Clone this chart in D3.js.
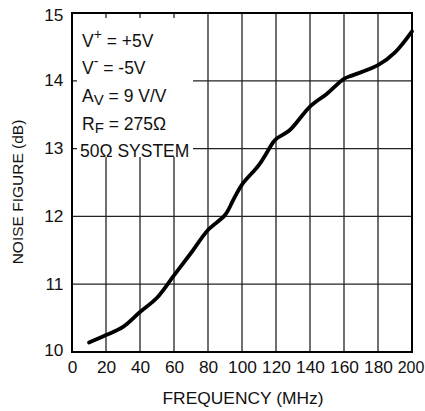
<!DOCTYPE html>
<html>
<head>
<meta charset="utf-8">
<script src="https://cdn.jsdelivr.net/npm/d3@7"></script>
<style>
  body { margin: 0; background: #fff; }
  text { font-family: "Liberation Sans", Arial, Helvetica, sans-serif; fill: #111; }
</style>
</head>
<body>
<div id="chart"></div>
<script>
// values
var freq = [10, 20, 30, 40, 50, 60, 70, 80, 90, 95, 100, 110, 118, 120, 128, 140, 150, 160, 165, 180, 190, 200];
var noise = [10.14, 10.25, 10.37, 10.59, 10.8, 11.13, 11.46, 11.8, 12.02, 12.25, 12.47, 12.76, 13.08, 13.14, 13.27, 13.62, 13.81, 14.03, 14.08, 14.23, 14.42, 14.73];
var xTicks = [0, 20, 40, 60, 80, 100, 120, 140, 160, 180, 200];
var yTicks = [10, 11, 12, 13, 14, 15];

var width = 425, height = 411;
var margin = {top: 13, right: 13, bottom: 59, left: 72};
var w = width - margin.left - margin.right,
    h = height - margin.top - margin.bottom;

var svg = d3.select("#chart").append("svg")
    .attr("width", width)
    .attr("height", height);

var g = svg.append("g")
    .attr("transform", "translate(" + margin.left + "," + margin.top + ")");

var x = d3.scaleLinear().domain([0, 200]).range([0, w]);
var y = d3.scaleLinear().domain([10, 15]).range([h, 0]);

// grid
g.selectAll(".vgrid")
    .data(xTicks.slice(1, -1))
    .enter().append("line")
    .attr("x1", d => x(d)).attr("x2", d => x(d))
    .attr("y1", 0).attr("y2", h)
    .style("stroke", "#222").style("stroke-width", 1.3);

g.selectAll(".hgrid")
    .data(yTicks.slice(1, -1))
    .enter().append("line")
    .attr("x1", 0).attr("x2", w)
    .attr("y1", d => y(d)).attr("y2", d => y(d))
    .style("stroke", "#222").style("stroke-width", 1.3);

// white box behind the conditions text
g.append("rect")
    .attr("x", 5).attr("y", 5)
    .attr("width", 116).attr("height", 139)
    .style("fill", "#fff");

// the curve
var line = d3.line()
    .x(function (d, i) { return x(freq[i]); })
    .y(function (d) { return y(d); })
    .curve(d3.curveCatmullRom.alpha(0.5));

g.append("path")
    .datum(noise)
    .attr("d", line)
    .style("fill", "none")
    .style("stroke", "#000")
    .style("stroke-width", 3.8)
    .style("stroke-linecap", "round")
    .style("stroke-linejoin", "round");

// frame
g.append("rect")
    .attr("width", w).attr("height", h)
    .style("fill", "none")
    .style("stroke", "#000")
    .style("stroke-width", 2);

// axes, labels only
var xAxis = g.append("g")
    .attr("transform", "translate(0," + h + ")")
    .call(d3.axisBottom(x).tickValues(xTicks).tickFormat(d3.format("d")).tickSize(0).tickPadding(10));
xAxis.select(".domain").remove();
xAxis.selectAll("text")
    .attr("dy", "0.71em")
    .style("font-size", "16px")
    .attr("transform", "scale(1.08,1)");
// last label sits right at the window edge
xAxis.selectAll(".tick").filter(d => d == 200).select("text")
    .attr("transform", null)
    .attr("x", -1.5);

var yAxis = g.append("g")
    .call(d3.axisLeft(y).tickValues(yTicks).tickFormat(d3.format("d")).tickSize(0).tickPadding(8));
yAxis.select(".domain").remove();
yAxis.selectAll("text")
    .style("font-size", "16px")
    .attr("transform", "scale(1.08,1)");
yAxis.selectAll(".tick").filter(d => d == 15).select("text").attr("dy", "0.45em");
yAxis.selectAll(".tick").filter(d => d == 10).select("text").attr("dy", "0.2em");

// axis titles
svg.append("text")
    .attr("x", 243).attr("y", 404)
    .attr("text-anchor", "middle")
    .attr("textLength", 161)
    .attr("lengthAdjust", "spacingAndGlyphs")
    .style("font-size", "16px")
    .text("FREQUENCY (MHz)");

svg.append("text")
    .attr("transform", "translate(23,192) rotate(-90)")
    .attr("text-anchor", "middle")
    .style("font-size", "15.5px")
    .text("NOISE FIGURE (dB)");

// conditions
var box = svg.append("g").style("font-size", "17.5px");
var lx = 82;

var t1 = box.append("text").attr("x", lx).attr("y", 46.5);
t1.append("tspan").text("V");
t1.append("tspan").attr("dy", -8).style("font-size", "14px").text("+");
t1.append("tspan").attr("dy", 8).text(" = +5V");

var t2 = box.append("text").attr("x", lx).attr("y", 74);
t2.append("tspan").text("V");
t2.append("tspan").attr("dy", -8).style("font-size", "14px").text("-");
t2.append("tspan").attr("dy", 8).text(" = -5V");

var t3 = box.append("text").attr("x", lx).attr("y", 102);
t3.append("tspan").text("A");
t3.append("tspan").attr("dy", 3).style("font-size", "15px").text("V");
t3.append("tspan").attr("dy", -3).text(" = 9 V/V");

var t4 = box.append("text").attr("x", lx).attr("y", 129.5);
t4.append("tspan").text("R");
t4.append("tspan").attr("dy", 3).style("font-size", "15px").text("F");
t4.append("tspan").attr("dy", -3).text(" = 275\u03A9");

box.append("text").attr("x", 80).attr("y", 157)
    .text("50\u03A9 SYSTEM");
</script>
</body>
</html>
